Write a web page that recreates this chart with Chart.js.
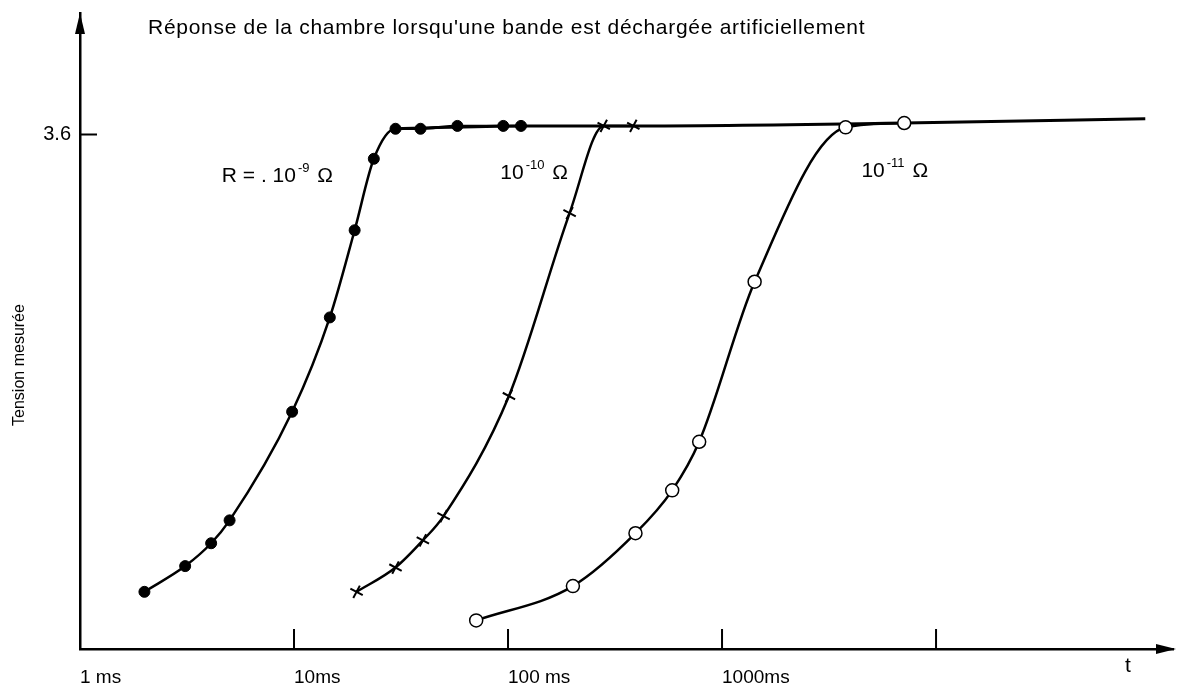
<!DOCTYPE html>
<html lang="fr">
<head>
<meta charset="utf-8">
<title>Réponse de la chambre</title>
<script src="https://cdn.jsdelivr.net/npm/chart.js@4.4.1/dist/chart.umd.min.js"></script>
<style>
  html, body { margin: 0; padding: 0; background: #fff; }
  #chart { display: block; }
</style>
</head>
<body>
<canvas id="chart" width="1182" height="692"></canvas>
<script>
// temps (ms, échelle log) et tension mesurée
const tempsR9 = [2.0, 3.1, 4.1, 5.0, 9.8, 14.7, 19.2, 23.6, 29.8, 39, 58, 95, 115];
const tensionR9 = [0.40, 0.58, 0.74, 0.90, 1.66, 2.32, 2.93, 3.43, 3.64, 3.64, 3.66, 3.66, 3.66];

const tempsR10 = [19.6, 29.8, 40, 50, 101, 194, 280, 385];
const tensionR10 = [0.40, 0.57, 0.76, 0.93, 1.77, 3.05, 3.66, 3.66];

const tempsR11 = [71, 201, 394, 585, 782, 1420, 3780, 7100];
const tensionR11 = [0.20, 0.44, 0.81, 1.11, 1.45, 2.57, 3.65, 3.68];

// le palier commun à 3.6
const tempsPalier = [29.8, 115, 385, 7100, 95000];
const tensionPalier = [3.64, 3.66, 3.66, 3.68, 3.71];

const xTicks = [1, 10, 100, 1000, 10000];
const xTickLabels = ['1 ms', '10ms', '100 ms', '1000ms', ''];
const yTicks = [3.6];
const yTickLabels = ['3.6'];

const titre = "Réponse de la chambre lorsqu'une bande est déchargée artificiellement";
const titreY = 'Tension mesurée';
const titreX = 't';
const nomsCourbes = [['R = . 10', '-9', ' Ω'], ['10', '-10', ' Ω'], ['10', '-11', ' Ω']];

const police = '"Liberation Sans", Arial, sans-serif';

function pts(xs, ys) {
    return xs.map((v, i) => ({ x: v, y: ys[i] }));
}

// fond blanc + flèches, graduations internes et textes
const decor = {
    id: 'decor',
    beforeDraw(chart) {
        const ctx = chart.ctx;
        ctx.save();
        ctx.fillStyle = '#fff';
        ctx.fillRect(0, 0, chart.width, chart.height);
        ctx.restore();
    },
    afterDraw(chart) {
        const { ctx, chartArea: a, scales: { x, y } } = chart;
        ctx.save();
        ctx.strokeStyle = '#000';
        ctx.fillStyle = '#000';

        // graduations vers l'intérieur
        ctx.lineWidth = 2;
        ctx.beginPath();
        xTicks.slice(1).forEach(v => {
            const px = x.getPixelForValue(v);
            ctx.moveTo(px, a.bottom);
            ctx.lineTo(px, a.bottom - 20);
        });
        yTicks.forEach(v => {
            const py = y.getPixelForValue(v);
            ctx.moveTo(a.left, py);
            ctx.lineTo(a.left + 17, py);
        });
        ctx.stroke();

        // flèches
        ctx.beginPath();
        ctx.moveTo(a.left, a.top);
        ctx.lineTo(a.left - 5, a.top + 21);
        ctx.lineTo(a.left + 5, a.top + 21);
        ctx.closePath();
        ctx.fill();
        ctx.beginPath();
        ctx.moveTo(a.right + 3, a.bottom);
        ctx.lineTo(a.right - 17, a.bottom - 5);
        ctx.lineTo(a.right - 17, a.bottom + 5);
        ctx.closePath();
        ctx.fill();

        // titre
        ctx.font = '21px ' + police;
        ctx.textBaseline = 'middle';
        ctx.textAlign = 'left';
        const largeur = ctx.measureText(titre).width;
        ctx.letterSpacing = ((717 - largeur) / titre.length).toFixed(2) + 'px';
        ctx.fillText(titre, 148, 28);
        ctx.letterSpacing = '0px';

        // t
        ctx.font = '21px ' + police;
        ctx.fillText(titreX, 1125, 666);

        // titre de l'axe vertical
        ctx.save();
        ctx.translate(20, 365);
        ctx.rotate(-Math.PI / 2);
        ctx.textAlign = 'center';
        ctx.font = '16px ' + police;
        ctx.fillText(titreY, 0, 0);
        ctx.restore();

        // noms des courbes, ancrés en coordonnées de données
        const ancres = [[4.6, 3.31], [92, 3.33], [4480, 3.34]];
        nomsCourbes.forEach((n, i) => {
            let px = x.getPixelForValue(ancres[i][0]);
            const py = y.getPixelForValue(ancres[i][1]);
            ctx.font = '21px ' + police;
            ctx.fillText(n[0], px, py);
            px += ctx.measureText(n[0]).width + 2;
            ctx.font = '13px ' + police;
            ctx.fillText(n[1], px, py - 8);
            px += ctx.measureText(n[1]).width + 2;
            ctx.font = '21px ' + police;
            ctx.fillText(n[2], px, py);
        });
        ctx.restore();
    }
};

const courbe = {
    borderColor: '#000',
    borderWidth: 2.5,
    cubicInterpolationMode: 'monotone',
    fill: false
};

new Chart(document.getElementById('chart'), {
    type: 'line',
    data: {
        datasets: [
            Object.assign({}, courbe, {
                label: 'R = 10-9 Ω',
                data: pts(tempsR9, tensionR9),
                pointStyle: 'circle',
                pointRadius: 5.5,
                pointBackgroundColor: '#000',
                pointBorderColor: '#000',
                pointBorderWidth: 1
            }),
            Object.assign({}, courbe, {
                label: '10-10 Ω',
                data: pts(tempsR10, tensionR10),
                pointStyle: 'cross',
                pointRotation: 28,
                pointRadius: 7,
                pointBorderColor: '#000',
                pointBorderWidth: 2
            }),
            Object.assign({}, courbe, {
                label: '10-11 Ω',
                data: pts(tempsR11, tensionR11),
                pointStyle: 'circle',
                pointRadius: 6.5,
                pointBackgroundColor: '#fff',
                pointBorderColor: '#000',
                pointBorderWidth: 1.5
            }),
            Object.assign({}, courbe, {
                label: 'palier',
                data: pts(tempsPalier, tensionPalier),
                borderWidth: 3,
                pointRadius: 0
            })
        ]
    },
    options: {
        responsive: false,
        animation: false,
        layout: { padding: { top: 13, right: 4, left: 0, bottom: 0 } },
        plugins: {
            legend: { display: false },
            title: { display: false },
            tooltip: { enabled: false }
        },
        scales: {
            x: {
                type: 'logarithmic',
                min: 1,
                max: 128000,
                afterBuildTicks: s => { s.ticks = xTicks.map(v => ({ value: v })); },
                afterFit: s => { s.height = 43; },
                grid: { display: false },
                border: { display: true, color: '#000', width: 2.5 },
                ticks: {
                    align: 'start',
                    padding: 9,
                    color: '#000',
                    autoSkip: false,
                    maxRotation: 0,
                    font: { family: police, size: 19 },
                    callback: (v, i) => xTickLabels[i]
                }
            },
            y: {
                type: 'linear',
                min: 0,
                max: 4.45,
                afterBuildTicks: s => { s.ticks = yTicks.map(v => ({ value: v })); },
                afterFit: s => { s.width = 80; },
                grid: { display: false },
                border: { display: true, color: '#000', width: 2.5 },
                ticks: {
                    padding: 1,
                    color: '#000',
                    font: { family: police, size: 20 },
                    callback: (v, i) => yTickLabels[i]
                }
            }
        }
    },
    plugins: [decor]
});
</script>
</body>
</html>
